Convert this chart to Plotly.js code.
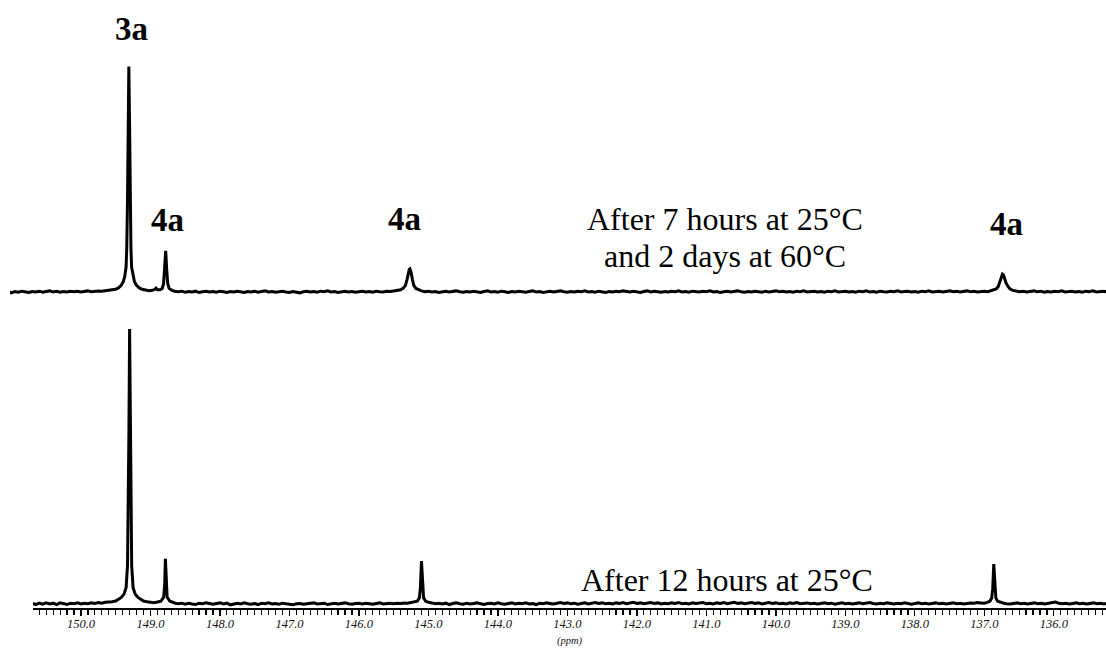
<!DOCTYPE html>
<html>
<head>
<meta charset="utf-8">
<script src="https://cdn.plot.ly/plotly-3.0.1.min.js"></script>
<style>html,body{margin:0;padding:0;background:#fff;}#chart{width:1106px;height:651px;}</style>
</head>
<body>
<div id="chart"></div>
<script>
// Bottom spectrum: "After 12 hours at 25°C"  [ppm, intensity]
const bottomSpectrum = [
  [150.70,0.2],[150.65,-0.2],[150.60,0.3],[150.55,-0.1],[150.50,0.4],[150.45,0.0],[150.40,0.3],[150.35,-0.2],[150.30,0.4],[150.25,0.1],
  [150.20,-0.2],[150.15,0.3],[150.10,0.1],[150.05,0.4],[150.00,0.0],[149.95,0.3],[149.90,0.1],[149.85,0.4],[149.80,0.2],[149.75,0.5],
  [149.70,0.3],[149.65,0.6],[149.60,0.6],[149.55,0.8],[149.50,1.1],[149.46,1.6],[149.42,2.4],[149.38,3.6],[149.35,6],[149.33,14],
  [149.32,30],[149.31,62],[149.30,100],[149.29,62],[149.28,30],[149.27,14],[149.25,6],[149.22,3.6],[149.18,2.4],[149.14,1.6],
  [149.10,1.1],[149.05,0.8],[149.00,0.6],[148.95,0.5],[148.90,0.7],[148.85,1.0],[148.81,2.5],[148.795,7],[148.785,16.4],[148.775,7],
  [148.76,2.5],[148.72,1.0],[148.68,0.6],[148.64,0.3],[148.60,0.1],[148.55,0.3],[148.50,-0.1],[148.45,0.3],[148.40,0.0],[148.35,-0.2],
  [148.30,0.3],[148.25,0.1],[148.20,0.4],[148.15,0.2],[148.10,-0.1],[148.05,0.2],[148.00,0.4],[147.95,0.0],[147.90,0.3],[147.85,-0.3],
  [147.80,0.1],[147.75,0.3],[147.70,0.0],[147.65,0.4],[147.60,0.1],[147.55,-0.1],[147.50,0.2],[147.45,-0.2],[147.40,0.3],[147.35,0.1],
  [147.30,0.4],[147.25,0.0],[147.20,0.2],[147.15,-0.1],[147.10,0.3],[147.05,0.1],[147.00,-0.2],[146.95,-0.3],[146.90,0.1],[146.85,0.2],
  [146.80,-0.1],[146.75,0.1],[146.70,0.3],[146.65,0.4],[146.60,0.0],[146.55,0.2],[146.50,0.3],[146.45,-0.2],[146.40,0.1],[146.35,0.3],
  [146.30,0.0],[146.25,0.2],[146.20,0.4],[146.15,0.1],[146.10,-0.1],[146.05,0.2],[146.00,0.3],[145.95,0.0],[145.90,0.3],[145.85,0.1],
  [145.80,-0.1],[145.75,0.2],[145.70,0.4],[145.65,0.0],[145.60,0.2],[145.55,0.3],[145.50,0.1],[145.45,0.3],[145.40,0.2],[145.35,0.4],
  [145.30,0.3],[145.25,0.5],[145.20,0.7],[145.16,1.0],[145.13,2.3],[145.115,6],[145.10,15.6],[145.085,6],[145.07,2.3],[145.04,1.0],
  [145.00,0.6],[144.95,0.4],[144.90,0.1],[144.85,0.3],[144.80,0.0],[144.75,0.3],[144.70,-0.2],[144.65,0.2],[144.60,0.4],[144.55,0.1],
  [144.50,-0.1],[144.45,0.3],[144.40,0.0],[144.35,0.2],[144.30,0.4],[144.25,0.1],[144.20,-0.2],[144.15,0.2],[144.10,0.3],[144.05,0.0],
  [144.00,0.4],[143.95,0.1],[143.90,-0.1],[143.85,0.2],[143.80,0.4],[143.75,0.0],[143.70,0.3],[143.65,0.1],[143.60,0.4],[143.55,0.0],
  [143.50,0.2],[143.45,-0.2],[143.40,0.3],[143.35,0.1],[143.30,0.4],[143.25,0.2],[143.20,0.0],[143.15,0.3],[143.10,0.5],[143.05,0.2],
  [143.00,0.4],[142.95,0.1],[142.90,0.3],[142.85,-0.1],[142.80,0.2],[142.75,0.4],[142.70,0.0],[142.65,0.3],[142.60,0.5],[142.55,0.2],
  [142.50,0.4],[142.45,0.1],[142.40,0.3],[142.35,0.0],[142.30,0.4],[142.25,0.2],[142.20,0.5],[142.15,0.1],[142.10,0.3],[142.05,0.6],
  [142.00,0.2],[141.95,0.4],[141.90,0.1],[141.85,0.3],[141.80,0.5],[141.75,0.2],[141.70,0.4],[141.65,0.0],[141.60,0.3],[141.55,0.1],
  [141.50,0.4],[141.45,0.2],[141.40,0.5],[141.35,0.1],[141.30,0.3],[141.25,0.0],[141.20,0.4],[141.15,0.2],[141.10,0.3],[141.05,0.5],
  [141.00,0.1],[140.95,0.3],[140.90,0.0],[140.85,0.4],[140.80,0.2],[140.75,0.5],[140.70,0.1],[140.65,0.3],[140.60,0.6],[140.55,0.2],
  [140.50,0.4],[140.45,0.1],[140.40,0.3],[140.35,0.5],[140.30,0.2],[140.25,0.4],[140.20,0.0],[140.15,0.3],[140.10,0.5],[140.05,0.2],
  [140.00,0.4],[139.95,0.1],[139.90,0.3],[139.85,0.0],[139.80,0.4],[139.75,0.2],[139.70,0.5],[139.65,0.1],[139.60,0.3],[139.55,0.4],
  [139.50,0.1],[139.45,0.3],[139.40,0.0],[139.35,0.2],[139.30,0.4],[139.25,0.1],[139.20,0.3],[139.15,-0.1],[139.10,0.2],[139.05,0.4],
  [139.00,0.1],[138.95,0.3],[138.90,0.0],[138.85,0.2],[138.80,0.4],[138.75,0.1],[138.70,0.3],[138.65,0.5],[138.60,0.2],[138.55,0.0],
  [138.50,0.3],[138.45,0.1],[138.40,0.4],[138.35,0.2],[138.30,0.0],[138.25,0.3],[138.20,0.1],[138.15,0.4],[138.10,0.2],[138.05,-0.1],
  [138.00,0.2],[137.95,0.4],[137.90,0.1],[137.85,0.3],[137.80,0.0],[137.75,0.2],[137.70,0.4],[137.65,0.1],[137.60,0.3],[137.55,0.0],
  [137.50,0.2],[137.45,0.4],[137.40,0.1],[137.35,0.3],[137.30,0.0],[137.25,0.2],[137.20,0.4],[137.15,0.3],[137.10,0.5],[137.05,0.4],
  [137.00,0.3],[136.96,0.6],[136.92,1.0],[136.895,2.2],[136.88,5.5],[136.865,14.5],[136.85,5.5],[136.835,2.2],[136.81,1.0],[136.77,0.6],
  [136.72,0.3],[136.68,0.1],[136.63,0.0],[136.58,0.2],[136.53,0.4],[136.48,0.1],[136.43,0.3],[136.38,0.0],[136.33,0.2],[136.28,0.4],
  [136.23,0.1],[136.18,0.3],[136.13,0.0],[136.08,0.2],[136.03,0.5],[135.98,0.7],[135.93,0.3],[135.88,0.1],[135.83,0.3],[135.78,0.0],
  [135.73,0.2],[135.68,0.4],[135.63,0.1],[135.58,0.3],[135.53,0.0],[135.48,0.2],[135.43,0.4],[135.38,0.1],[135.33,0.3],[135.28,0.0],[135.24,0.2]
];

// Top spectrum: "After 7 hours at 25°C and 2 days at 60°C"  [ppm, intensity]
const topSpectrum = [
  [151.05,0.1],[151.00,-0.3],[150.95,0.2],[150.90,-0.1],[150.85,0.3],[150.80,0.0],[150.75,-0.2],[150.70,0.2],[150.65,0.0],[150.60,0.3],
  [150.55,-0.1],[150.50,0.2],[150.45,0.4],[150.40,0.0],[150.35,0.3],[150.30,-0.1],[150.25,0.2],[150.20,0.0],[150.15,0.3],[150.10,0.1],
  [150.05,0.3],[150.00,0.0],[149.95,0.2],[149.90,0.4],[149.85,0.1],[149.80,0.3],[149.75,0.4],[149.70,0.3],[149.65,0.5],[149.60,0.6],
  [149.55,0.8],[149.50,1.0],[149.46,1.5],[149.42,2.4],[149.39,3.8],[149.37,5.5],[149.35,9],[149.34,16],[149.33,32],[149.32,62],
  [149.31,82],[149.30,62],[149.29,32],[149.28,16],[149.27,9],[149.25,5.5],[149.23,3.8],[149.20,2.4],[149.16,1.5],[149.12,1.0],
  [149.07,0.7],[149.02,0.5],[148.97,0.6],[148.94,0.9],[148.92,1.4],[148.90,0.8],[148.86,0.8],[148.83,1.3],[148.81,3],[148.795,8],
  [148.78,15],[148.765,8],[148.75,3],[148.73,1.3],[148.69,0.6],[148.65,0.3],[148.60,0.1],[148.55,0.3],[148.50,-0.1],[148.45,0.2],
  [148.40,0.0],[148.35,0.3],[148.30,-0.2],[148.25,0.1],[148.20,0.3],[148.15,0.0],[148.10,0.2],[148.05,-0.1],[148.00,0.3],[147.95,0.1],
  [147.90,-0.2],[147.85,0.2],[147.80,0.0],[147.75,0.3],[147.70,0.1],[147.65,-0.2],[147.60,0.2],[147.55,0.0],[147.50,0.3],[147.45,-0.1],
  [147.40,0.2],[147.35,0.4],[147.30,0.0],[147.25,0.2],[147.20,-0.1],[147.15,0.1],[147.10,0.3],[147.05,0.0],[147.00,-0.2],[146.95,0.2],
  [146.90,0.0],[146.85,-0.3],[146.80,0.1],[146.75,0.3],[146.70,0.0],[146.65,0.2],[146.60,-0.1],[146.55,0.3],[146.50,0.1],[146.45,0.4],
  [146.40,0.0],[146.35,0.2],[146.30,-0.2],[146.25,0.1],[146.20,0.3],[146.15,0.0],[146.10,0.2],[146.05,-0.1],[146.00,0.1],[145.95,0.3],
  [145.90,0.0],[145.85,0.2],[145.80,-0.1],[145.75,0.3],[145.70,0.1],[145.65,0.0],[145.60,0.3],[145.55,0.2],[145.50,0.4],[145.45,0.5],
  [145.40,0.8],[145.36,1.4],[145.33,2.4],[145.31,4.2],[145.29,6.8],[145.275,8.2],[145.265,8.4],[145.25,7.2],[145.23,4.6],[145.21,2.4],
  [145.18,1.3],[145.14,0.7],[145.10,0.4],[145.05,0.1],[145.00,0.3],[144.95,0.0],[144.90,0.2],[144.85,-0.2],[144.80,0.1],[144.75,0.3],
  [144.70,0.0],[144.65,0.2],[144.60,0.4],[144.55,0.1],[144.50,-0.1],[144.45,0.2],[144.40,0.0],[144.35,0.3],[144.30,0.1],[144.25,-0.2],
  [144.20,0.2],[144.15,0.4],[144.10,0.0],[144.05,0.2],[144.00,-0.1],[143.95,0.3],[143.90,0.1],[143.85,-0.2],[143.80,0.2],[143.75,0.0],
  [143.70,0.3],[143.65,0.1],[143.60,-0.1],[143.55,0.2],[143.50,0.4],[143.45,0.0],[143.40,0.2],[143.35,-0.2],[143.30,0.1],[143.25,0.3],
  [143.20,0.0],[143.15,0.2],[143.10,0.4],[143.05,0.1],[143.00,-0.1],[142.95,0.2],[142.90,0.0],[142.85,0.3],[142.80,0.1],[142.75,0.4],
  [142.70,0.0],[142.65,0.2],[142.60,-0.1],[142.55,0.3],[142.50,0.1],[142.45,-0.2],[142.40,0.2],[142.35,0.0],[142.30,0.3],[142.25,0.1],
  [142.20,0.4],[142.15,0.2],[142.10,0.0],[142.05,0.3],[142.00,0.1],[141.95,-0.2],[141.90,0.2],[141.85,0.4],[141.80,0.0],[141.75,0.3],
  [141.70,0.1],[141.65,-0.1],[141.60,0.2],[141.55,0.0],[141.50,0.3],[141.45,0.1],[141.40,0.4],[141.35,0.0],[141.30,0.2],[141.25,-0.1],
  [141.20,0.3],[141.15,0.1],[141.10,0.0],[141.05,0.3],[141.00,0.1],[140.95,0.4],[140.90,0.0],[140.85,0.2],[140.80,-0.2],[140.75,0.1],
  [140.70,0.3],[140.65,0.0],[140.60,0.2],[140.55,0.4],[140.50,0.1],[140.45,-0.1],[140.40,0.2],[140.35,0.0],[140.30,0.3],[140.25,0.1],
  [140.20,-0.1],[140.15,0.3],[140.10,0.0],[140.05,0.2],[140.00,0.4],[139.95,0.1],[139.90,0.3],[139.85,0.0],[139.80,0.2],[139.75,-0.1],
  [139.70,0.3],[139.65,0.1],[139.60,0.4],[139.55,0.0],[139.50,0.2],[139.45,0.3],[139.40,0.0],[139.35,0.2],[139.30,-0.1],[139.25,0.3],
  [139.20,0.1],[139.15,0.4],[139.10,0.0],[139.05,0.2],[139.00,0.3],[138.95,0.0],[138.90,0.2],[138.85,-0.1],[138.80,0.3],[138.75,0.1],
  [138.70,0.4],[138.65,0.0],[138.60,0.2],[138.55,-0.1],[138.50,0.3],[138.45,0.1],[138.40,0.0],[138.35,0.3],[138.30,0.1],[138.25,0.4],
  [138.20,0.0],[138.15,0.2],[138.10,0.3],[138.05,0.0],[138.00,0.2],[137.95,-0.1],[137.90,0.3],[137.85,0.1],[137.80,0.4],[137.75,0.0],
  [137.70,0.2],[137.65,0.3],[137.60,0.0],[137.55,0.2],[137.50,0.4],[137.45,0.1],[137.40,0.3],[137.35,0.0],[137.30,0.2],[137.25,0.4],
  [137.20,0.1],[137.15,0.3],[137.10,0.0],[137.05,0.2],[137.00,0.3],[136.95,0.1],[136.90,0.4],[136.86,0.7],[136.83,1.1],[136.80,2.0],
  [136.775,3.6],[136.755,5.4],[136.74,6.5],[136.725,6.2],[136.71,5.0],[136.69,3.4],[136.66,2.0],[136.63,1.1],[136.59,0.6],[136.54,0.3],
  [136.49,0.1],[136.44,0.3],[136.39,0.0],[136.34,0.2],[136.29,0.4],[136.24,0.1],[136.19,0.3],[136.14,-0.1],[136.09,0.2],[136.04,0.0],
  [135.99,0.3],[135.94,0.1],[135.89,0.4],[135.84,0.0],[135.79,0.2],[135.74,0.3],[135.69,0.0],[135.64,0.2],[135.59,-0.1],[135.54,0.3],
  [135.49,0.1],[135.44,0.4],[135.39,0.0],[135.34,0.2],[135.29,0.3],[135.24,0.1]
];

const tickVals = [150,149,148,147,146,145,144,143,142,141,140,139,138,137,136];
const tickText = ["150.0","149.0","148.0","147.0","146.0","145.0","144.0","143.0","142.0","141.0","140.0","139.0","138.0","137.0","136.0"];
const axisTitle = "(ppm)";
const peakLabels = ["3a","4a","4a","4a"];
const spectrumLabels = ["After 7 hours at 25°C","and 2 days at 60°C","After 12 hours at 25°C"];

const W = 1106, H = 651;
const px = v => v / W;
const py = v => 1 - v / H;
const serif = "Liberation Serif, Times New Roman, serif";

const lineStyle = {color: "#000", width: 3, shape: "linear"};

const traces = [
  {x: bottomSpectrum.map(p => p[0]), y: bottomSpectrum.map(p => p[1]), type: "scatter", mode: "lines", line: lineStyle, xaxis: "x", yaxis: "y", hoverinfo: "skip"},
  {x: topSpectrum.map(p => p[0]), y: topSpectrum.map(p => p[1]), type: "scatter", mode: "lines", line: lineStyle, xaxis: "x2", yaxis: "y2", hoverinfo: "skip"}
];

const labelFont = {family: serif, size: 33, color: "#000", weight: "bold"};
const textFont = {family: serif, size: 32, color: "#000"};

const annotations = [
  {text: "<b>" + peakLabels[0] + "</b>", x: px(131), y: py(29), font: labelFont},
  {text: "<b>" + peakLabels[1] + "</b>", x: px(167), y: py(220), font: labelFont},
  {text: "<b>" + peakLabels[2] + "</b>", x: px(404), y: py(219), font: labelFont},
  {text: "<b>" + peakLabels[3] + "</b>", x: px(1006), y: py(224), font: labelFont},
  {text: spectrumLabels[0], x: px(725), y: py(219), font: textFont},
  {text: spectrumLabels[1], x: px(725), y: py(256), font: textFont},
  {text: spectrumLabels[2], x: px(727), y: py(580), font: textFont}
].map(a => Object.assign({xref: "paper", yref: "paper", xanchor: "center", yanchor: "middle", showarrow: false}, a));

const layout = {
  width: W, height: H,
  margin: {l: 0, r: 0, t: 0, b: 0, pad: 0},
  paper_bgcolor: "#fff", plot_bgcolor: "#fff",
  showlegend: false,
  xaxis: {
    domain: [px(33), 1], range: [150.69, 135.25], anchor: "free", position: 43 / H,
    showgrid: false, zeroline: false, showline: true, linecolor: "#000", linewidth: 1.5,
    ticks: "outside", ticklen: 6, tickwidth: 1.2, tickcolor: "#000",
    tickmode: "array", tickvals: tickVals, ticktext: tickText,
    ticklabelstandoff: -3,
    tickfont: {family: serif, size: 12.5, style: "italic", color: "#111"},
    minor: {dtick: 0.1, tick0: 150, ticks: "outside", ticklen: 5, tickwidth: 1.2, tickcolor: "#000", showgrid: false},
    title: {text: axisTitle, font: {family: serif, size: 10.5, style: "italic", color: "#111"}, standoff: 7}
  },
  xaxis2: {
    domain: [px(10), 1], range: [151.02, 135.25], anchor: "y2", visible: false
  },
  yaxis: {domain: [33.25 / H, 335.75 / H], range: [-5, 105], visible: false, anchor: "x"},
  yaxis2: {domain: [345.25 / H, 647.75 / H], range: [-5, 105], visible: false, anchor: "x2"},
  annotations: annotations
};

Plotly.newPlot("chart", traces, layout, {staticPlot: true, displayModeBar: false});
</script>
</body>
</html>
